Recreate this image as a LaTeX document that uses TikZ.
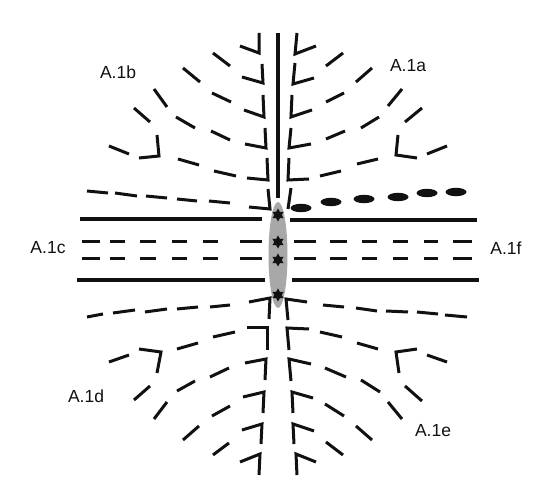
\documentclass[tikz,border=0pt]{standalone}
\usepackage{fontspec}
\setmainfont{Liberation Sans}
\usepackage{xcolor}
\usepackage{tikz}
\usetikzlibrary{shapes.geometric}
\definecolor{ink}{HTML}{111111}
\definecolor{cellgray}{HTML}{A8A8A8}
\tikzset{
  bar/.style={draw=ink, line width=4pt},
  spine/.style={draw=ink, line width=3.4pt},
  seg/.style={draw=ink, line width=3pt},
  hookline/.style={draw=ink, line width=3pt, line join=miter},
  blob/.style={fill=ink, draw=none},
  spark/.style={star, star points=6, star point ratio=1.75, fill=ink, draw=none,
                minimum size=13pt, inner sep=0pt},
  lbl/.style={font=\fontsize{17.5}{20}\selectfont, text=ink, inner sep=0pt}
}
\begin{document}
\begin{tikzpicture}[x=1pt, y=-1pt]
  \useasboundingbox (0,0) rectangle (550,494);

  % central axis and cell
  \draw[spine] (278,33) -- (278,198);
  \fill[cellgray] (278,255) ellipse [x radius=9.5, y radius=53];
  \foreach \y/\nm in {215/s1, 242/s2, 260/s3, 295/s4}
    \node[spark] (\nm) at (278,\y) {};

  % horizontal field lines
  \draw[bar] (80,219) -- (262,219);
  \draw[bar] (290,220) -- (477,220);
  \draw[bar] (77,280) -- (265,280);
  \draw[bar] (292,280) -- (479,280);
  \foreach \y in {242,259} {
    \foreach \a/\b in {82/100,110/125,140/156,172/187,203/218,240/262}
      \draw[seg] (\a,\y) -- (\b,\y);
    \foreach \a/\b in {294/316,330/347,362/377,393/408,424/438,453/472}
      \draw[seg] (\a,\y) -- (\b,\y);
  }

  % upper left hooks
  \draw[hookline] (240,46) -- (259,53) -- (259,33);
  \draw[hookline] (242,77) -- (263,83) -- (262,64);
  \draw[hookline] (244,110) -- (264,117) -- (263,95);
  \draw[hookline] (245,144) -- (266,148) -- (265,128);
  \draw[hookline] (247,178) -- (268,180) -- (267,158);
  \draw[hookline] (249,207) -- (270,209) -- (268,189);

  % upper right hooks
  \draw[hookline] (316,46) -- (295,54) -- (297,33);
  \draw[hookline] (314,78) -- (293,84) -- (295,63);
  \draw[hookline] (312,110) -- (291,117) -- (292,95);
  \draw[hookline] (311,144) -- (289,148) -- (291,128);
  \draw[hookline] (309,179) -- (288,180) -- (289,158);
  \draw[hookline] (288,209) -- (291,188);

  % lower left hooks
  \draw[hookline] (249,302) -- (270,298) -- (269,319);
  \draw[hookline] (247,328) -- (267,328) -- (267,350);
  \draw[hookline] (245,363) -- (266,359) -- (265,380);
  \draw[hookline] (243,397) -- (264,392) -- (263,413);
  \draw[hookline] (242,430) -- (262,424) -- (261,444);
  \draw[hookline] (240,462) -- (260,454) -- (259,475);

  % lower right hooks
  \draw[hookline] (307,302) -- (286,299) -- (288,320);
  \draw[hookline] (309,329) -- (287,328) -- (289,350);
  \draw[hookline] (311,364) -- (289,359) -- (291,381);
  \draw[hookline] (313,398) -- (292,392) -- (293,413);
  \draw[hookline] (314,431) -- (293,424) -- (294,444);
  \draw[hookline] (316,462) -- (296,454) -- (297,475);

  % upper left dashes
  \draw[seg] (213,53) -- (230,66);
  \draw[seg] (183,68) -- (200,82);
  \draw[seg] (212,93) -- (231,102);
  \draw[seg] (154,89) -- (167,107);
  \draw[seg] (176,117) -- (195,128);
  \draw[seg] (211,131) -- (230,140);
  \draw[seg] (134,108) -- (150,122);
  \draw[hookline] (157,135) -- (159,156) -- (139,158);
  \draw[seg] (109,146) -- (129,154);
  \draw[seg] (178,159) -- (199,165);
  \draw[seg] (214,171) -- (236,176);
  \foreach \a/\ya/\b/\yb in {87/191/108/193,115/193/137/196,146/196/167/198,177/199/197/201,209/201/230/203}
    \draw[seg] (\a,\ya) -- (\b,\yb);

  % upper right dashes and blobs
  \draw[seg] (326,66) -- (343,53);
  \draw[seg] (356,82) -- (372,68);
  \draw[seg] (326,102) -- (344,93);
  \draw[seg] (388,106) -- (402,89);
  \draw[seg] (326,139) -- (345,131);
  \draw[seg] (361,128) -- (379,117);
  \draw[seg] (405,122) -- (422,108);
  \draw[seg] (320,176) -- (341,171);
  \draw[seg] (357,164) -- (378,159);
  \draw[hookline] (398,135) -- (396,155) -- (417,158);
  \draw[seg] (427,154) -- (447,146);
  \foreach \x/\y in {301/208,331/202,364/199,398/197,427/193,456/192}
    \fill[blob] (\x,\y) ellipse [x radius=10.5, y radius=4.2];

  % lower left dashes
  \foreach \a/\ya/\b/\yb in {87/317/103/314,113/313/135/310,145/312/167/309,177/309/198/307,210/307/230/305}
    \draw[seg] (\a,\ya) -- (\b,\yb);
  \draw[seg] (177,349) -- (198,343);
  \draw[seg] (213,337) -- (235,332);
  \draw[seg] (109,362) -- (129,355);
  \draw[hookline] (139,349) -- (161,352) -- (157,373);
  \draw[seg] (177,391) -- (195,381);
  \draw[seg] (210,377) -- (229,368);
  \draw[seg] (134,400) -- (150,386);
  \draw[seg] (154,419) -- (167,402);
  \draw[seg] (212,416) -- (230,406);
  \draw[seg] (183,440) -- (199,426);
  \draw[seg] (213,455) -- (229,443);

  % lower right dashes
  \foreach \a/\ya/\b/\yb in {323/305/344/307,356/308/377/311,386/311/408/312,417/312/438/314,445/315/467/317}
    \draw[seg] (\a,\ya) -- (\b,\yb);
  \draw[seg] (320,332) -- (342,337);
  \draw[seg] (357,343) -- (378,349);
  \draw[hookline] (417,349) -- (396,352) -- (399,373);
  \draw[seg] (427,355) -- (447,362);
  \draw[seg] (325,368) -- (346,377);
  \draw[seg] (361,380) -- (380,392);
  \draw[seg] (405,386) -- (422,401);
  \draw[seg] (325,404) -- (344,416);
  \draw[seg] (388,402) -- (402,419);
  \draw[seg] (356,426) -- (372,440);
  \draw[seg] (326,442) -- (343,455);

  % labels
  \node[lbl] (la) at (408,66) {A.1a};
  \node[lbl] (lb) at (118,72) {A.1b};
  \node[lbl] (lc) at (48,248) {A.1c};
  \node[lbl] (ld) at (86,396) {A.1d};
  \node[lbl] (le) at (433,431) {A.1e};
  \node[lbl] (lf) at (506,248) {A.1f};
\end{tikzpicture}
\end{document}
